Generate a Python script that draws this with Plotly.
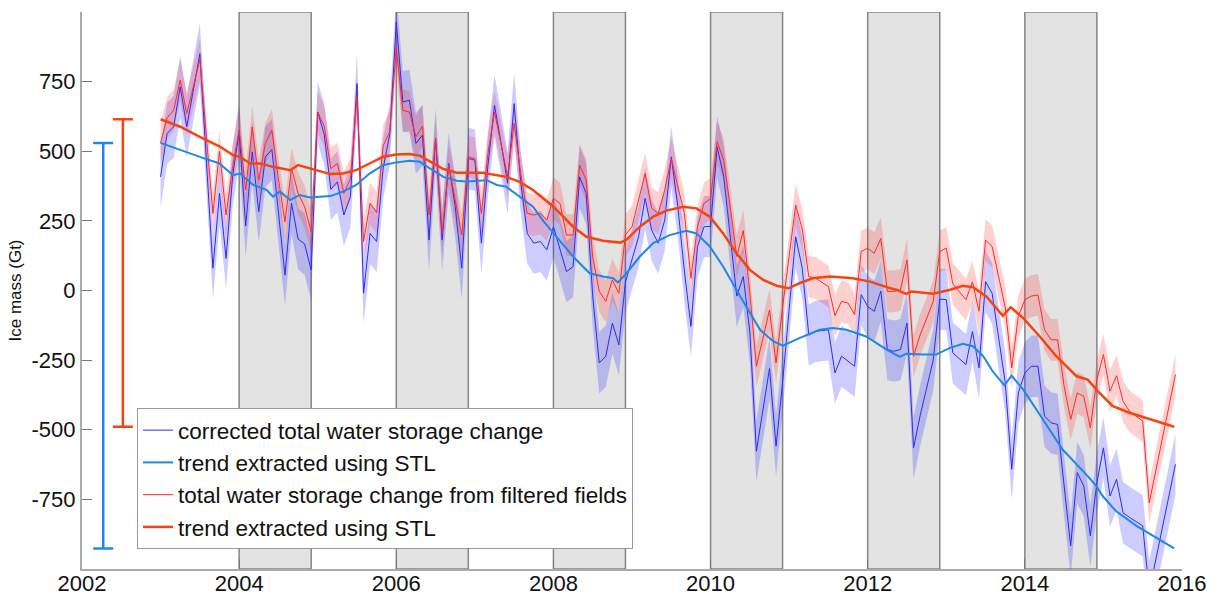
import plotly.graph_objects as go

# ---------------------------------------------------------------------------
# Monthly GRACE-derived ice mass anomalies (Gt); sample index = months since Jan 2003
MONTHS = [
    0, 1, 2, 3, 4, 6, 7, 8, 9, 10, 11,
    12, 13, 14, 15, 16, 17, 18, 19, 20, 21, 22, 23,
    24, 25, 26, 27, 28, 29, 30, 31, 32, 33, 34, 35,
    36, 37, 38, 39, 40, 41, 42, 43, 44, 45, 46, 47,
    48, 49, 50, 51, 52, 53, 54, 55, 56, 57, 58, 59,
    60, 61, 62, 63, 64, 65, 66, 67, 68, 69, 70, 71,
    72, 73, 74, 75, 76, 77, 78, 79, 80, 81, 82, 83,
    84, 85, 86, 87, 88, 89, 90, 91, 92, 93, 94, 95,
    97, 98, 99, 100, 102, 103, 104, 105, 106, 107,
    108, 109, 110, 111, 112, 113, 114, 115, 116, 118, 119,
    120, 121, 123, 124, 125, 126, 127, 129, 130, 131,
    132, 133, 134, 135, 136, 137, 138, 139, 140, 141, 142, 143,
    144, 145, 146, 147, 148, 150, 151, 155,
]

CORRECTED = [
    408, 564, 588, 731, 588, 850, 465, 80, 349, 115, 410,
    570, 232, 498, 283, 480, 506, 280, 55, 314, 185, 167, 74,
    641, 560, 363, 390, 271, 337, 743, -10, 205, 176, 440, 560,
    964, 677, 683, 528, 558, 181, 546, 181, 456, 301, 80, 474,
    468, 170, 450, 665, 530, 385, 671, 390, 205, 170, 176, 146,
    229, 150, 68, 86, 408, 349, -20, -260, -236, -117, -195, 30,
    110, 193, 331, 217, 170, 253, 480, 301, 70, -129, 157, 229,
    230, 516, 410, 200, -20, 50, -150, -577, -430, -280, -559, -330,
    193, 80, -160, -147, -141, -296, -236, -254, -272, -15,
    -57, -75, -2, -212, -218, -212, -117, -565, -450, -250, -31,
    -33, -224, -266, -147, -278, 32, -10, -330, -642, -368,
    -296, -272, -272, -451, -475, -481, -702, -917, -654, -702, -881, -690,
    -565, -738, -678, -798, -815, -845, -1080, -624,
]

FILTERED = [
    530, 620, 647, 755, 635, 829, 553, 277, 500, 271, 444,
    576, 361, 587, 396, 528, 576, 400, 247, 438, 350, 301, 211,
    641, 590, 438, 456, 349, 402, 695, 176, 313, 280, 520, 570,
    872, 647, 641, 552, 590, 271, 546, 205, 450, 325, 199, 480,
    474, 277, 492, 641, 520, 410, 600, 420, 277, 271, 277, 253,
    331, 313, 199, 199, 450, 397, 120, -3, -39, 38, -10, 200,
    229, 325, 420, 295, 277, 361, 474, 373, 277, 44, 229, 313,
    330, 534, 468, 301, 122, 215, -10, -272, -170, -70, -260, -60,
    307, 220, 50, 45, 14, -90, -39, -45, -87, 140,
    152, 134, 187, -3, -3, 2, 110, -236, -160, -40, 140,
    152, 24, -33, 31, -75, 181, 158, -60, -278, -93,
    -33, -20, -16, -141, -177, -177, -344, -463, -368, -380, -493, -320,
    -230, -362, -306, -398, -434, -469, -762, -302,
]

# One-sigma uncertainty of each monthly solution (Gt)
CORRECTED_SIGMA = 110
FILTERED_SIGMA = 75

# STL trend components (decimal year, Gt)
TREND_CORRECTED_T = [
    2003.00, 2003.25, 2003.50, 2003.75, 2003.92, 2004.01, 2004.18, 2004.35,
    2004.43, 2004.52, 2004.65, 2004.77, 2004.90, 2005.16, 2005.32, 2005.49,
    2005.66, 2005.83, 2006.00, 2006.17, 2006.30, 2006.43, 2006.60, 2006.77,
    2006.89, 2007.15, 2007.28, 2007.40, 2007.60, 2007.74, 2007.87, 2008.00,
    2008.25, 2008.46, 2008.63, 2008.76, 2008.82, 2008.93, 2009.10, 2009.27,
    2009.48, 2009.69, 2009.82, 2009.99, 2010.16, 2010.33, 2010.50, 2010.63,
    2010.80, 2010.92, 2011.13, 2011.39, 2011.56, 2011.73, 2011.98, 2012.24,
    2012.41, 2012.49, 2012.70, 2012.87, 2013.04, 2013.21, 2013.34, 2013.47,
    2013.59, 2013.74, 2013.83, 2013.98, 2014.23, 2014.48, 2014.78, 2014.91,
    2014.99, 2015.16, 2015.42, 2015.67, 2015.90,
]
TREND_CORRECTED = [
    530, 504, 480, 456, 414, 420, 379, 361,
    337, 355, 325, 343, 334, 339, 355, 379,
    420, 450, 460, 466, 462, 438, 408, 394,
    391, 396, 379, 373, 330, 301, 250, 205,
    122, 62, 50, 44, 29, 62, 122, 170,
    199, 214, 205, 158, 86, 2, -81, -141,
    -183, -198, -171, -141, -135, -141, -165, -212,
    -238, -227, -230, -230, -207, -191, -200, -236,
    -290, -341, -306, -356, -463, -571, -660, -702,
    -738, -792, -845, -887, -926,
]

TREND_FILTERED_T = [
    2003.00, 2003.25, 2003.50, 2003.76, 2003.92, 2004.01, 2004.14, 2004.27,
    2004.43, 2004.65, 2004.75, 2004.90, 2005.16, 2005.32, 2005.49, 2005.66,
    2005.83, 2006.00, 2006.17, 2006.30, 2006.43, 2006.60, 2006.77, 2007.10,
    2007.40, 2007.57, 2007.74, 2008.00, 2008.25, 2008.42, 2008.63, 2008.85,
    2008.93, 2009.10, 2009.27, 2009.44, 2009.65, 2009.82, 2009.99, 2010.16,
    2010.33, 2010.50, 2010.67, 2010.84, 2010.99, 2011.13, 2011.30, 2011.52,
    2011.81, 2012.03, 2012.24, 2012.37, 2012.49, 2012.56, 2012.83, 2013.04,
    2013.21, 2013.34, 2013.51, 2013.64, 2013.72, 2013.82, 2013.98, 2014.19,
    2014.40, 2014.66, 2014.80, 2014.95, 2015.12, 2015.33, 2015.59, 2015.90,
]
TREND_FILTERED = [
    615, 588, 552, 516, 486, 480, 456, 456,
    444, 432, 450, 438, 418, 420, 432, 456,
    480, 488, 490, 484, 464, 436, 423, 423,
    408, 390, 361, 301, 229, 193, 179, 172,
    182, 229, 265, 287, 301, 295, 265, 205,
    134, 74, 38, 17, 8, 26, 44, 50,
    44, 32, 12, 2, -12, -4, -12, 2,
    17, 12, -21, -63, -91, -60, -99, -165,
    -236, -308, -320, -368, -415, -439, -463, -489,
]

# Years whose span is shaded grey
SHADED_YEARS = [2004, 2006, 2008, 2010, 2012, 2014]

# Total change bars on the left, placed at these years
CHANGE_BAR_X = {"corrected": 2002.27, "filtered": 2002.52}

# ---------------------------------------------------------------------------
FONT = "Liberation Sans, Arial, Helvetica, sans-serif"
BLUE_DATA = "#2a2aff"
RED_DATA = "#ff2a2a"
BLUE_TREND = "#1e88e8"
RED_TREND = "#f44510"

t = [2003 + m / 12.0 for m in MONTHS]


def band(values, sigma):
    upper = [v + sigma for v in values]
    lower = [v - sigma for v in values]
    return t + t[::-1], upper + lower[::-1]


fig = go.Figure()

bx, by = band(CORRECTED, CORRECTED_SIGMA)
fig.add_trace(go.Scatter(x=bx, y=by, fill="toself", mode="lines",
                         line=dict(width=0), fillcolor="rgba(40,40,255,0.24)",
                         hoverinfo="skip", showlegend=False))
rx, ry = band(FILTERED, FILTERED_SIGMA)
fig.add_trace(go.Scatter(x=rx, y=ry, fill="toself", mode="lines",
                         line=dict(width=0), fillcolor="rgba(255,40,40,0.22)",
                         hoverinfo="skip", showlegend=False))

fig.add_trace(go.Scatter(x=t, y=CORRECTED, mode="lines",
                         name="corrected total water storage change",
                         line=dict(color=BLUE_DATA, width=1), legendrank=1))
fig.add_trace(go.Scatter(x=t, y=FILTERED, mode="lines",
                         name="total water storage change from filtered fields",
                         line=dict(color=RED_DATA, width=1), legendrank=3))
fig.add_trace(go.Scatter(x=TREND_CORRECTED_T, y=TREND_CORRECTED, mode="lines",
                         name="trend extracted using STL",
                         line=dict(color=BLUE_TREND, width=2), legendrank=2))
fig.add_trace(go.Scatter(x=TREND_FILTERED_T, y=TREND_FILTERED, mode="lines",
                         name="trend extracted using STL",
                         line=dict(color=RED_TREND, width=2.5), legendrank=4))

# Vertical bars spanning the trend's first and last value
for key, trend, color in (("corrected", TREND_CORRECTED, BLUE_TREND),
                          ("filtered", TREND_FILTERED, RED_TREND)):
    top, bottom = trend[0], trend[-1]
    fig.add_trace(go.Scatter(
        x=[CHANGE_BAR_X[key]], y=[(top + bottom) / 2.0], mode="markers",
        marker=dict(size=1, color="rgba(0,0,0,0)"),
        error_y=dict(type="data", symmetric=True, array=[(top - bottom) / 2.0],
                     color=color, thickness=2.5, width=10),
        hoverinfo="skip", showlegend=False))

shapes = []
for yr in SHADED_YEARS:
    shapes.append(dict(type="rect", xref="x", yref="y", x0=yr, x1=yr + 11 / 12.0,
                       y0=-1000, y1=1000, layer="below",
                       fillcolor="#e3e3e3", line=dict(color="#858585", width=1.5)))

y_ticks = [-750, -500, -250, 0, 250, 500, 750]
x_ticks = list(range(2002, 2017, 2))

fig.update_layout(
    width=1214, height=598,
    margin=dict(l=82, r=32, t=12, b=29),
    paper_bgcolor="white", plot_bgcolor="white",
    font=dict(family=FONT, size=22, color="#111111"),
    shapes=shapes,
    showlegend=True,
    legend=dict(x=0.05, y=0.289, xanchor="left", yanchor="top",
                bgcolor="white", bordercolor="#9a9a9a", borderwidth=1,
                font=dict(family=FONT, size=22.5, color="#111111"),
                tracegroupgap=0, itemwidth=30),
    xaxis=dict(range=[2002, 2016], tickvals=x_ticks, ticktext=[str(v) for v in x_ticks],
               ticks="inside", ticklen=10, tickcolor="#777777", tickwidth=1,
               showline=True, linecolor="#aaaaaa", linewidth=2,
               showgrid=False, zeroline=False, automargin=False,
               ticklabelstandoff=-6,
               tickfont=dict(family=FONT, size=22, color="#111111")),
    yaxis=dict(range=[-1000, 1000], tickvals=y_ticks, ticktext=[str(v) for v in y_ticks],
               ticks="inside", ticklen=10, tickcolor="#777777", tickwidth=1,
               showline=True, linecolor="#aaaaaa", linewidth=2,
               showgrid=False, zeroline=False, automargin=False,
               tickfont=dict(family=FONT, size=22, color="#111111"),
               title=dict(text="Ice mass (Gt)", standoff=6,
                          font=dict(family=FONT, size=17, color="#111111"))),
)

fig.write_html("out.html")
